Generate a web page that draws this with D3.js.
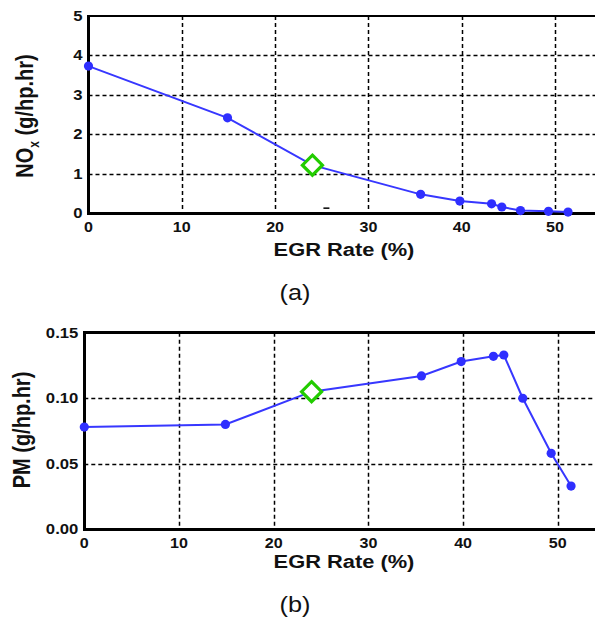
<!DOCTYPE html>
<html>
<head>
<meta charset="utf-8">
<script src="https://cdn.jsdelivr.net/npm/d3@7"></script>
<style>
  html, body { margin: 0; padding: 0; background: #fff; }
  svg { display: block; }
  text { font-family: "Liberation Sans", Arial, sans-serif; fill: #111; }
</style>
</head>
<body>
<svg id="chart" width="595" height="621"></svg>
<script>
// EGR sweep: rate (%) and brake-specific emissions
const egrRate = [0, 14.9, 24.0, 35.6, 39.8, 43.2, 44.3, 46.3, 49.3, 51.4];
const noxValues = [3.73, 2.42, 1.22, 0.48, 0.31, 0.24, 0.16, 0.07, 0.05, 0.03];
const pmValues = [0.078, 0.080, 0.105, 0.117, 0.128, 0.132, 0.133, 0.100, 0.058, 0.033];
// operating point shown with an open diamond
const selectedIndex = 2;

const xTicks = [0, 10, 20, 30, 40, 50];
const noxTicks = [0, 1, 2, 3, 4, 5];
const pmTicks = [0.00, 0.05, 0.10, 0.15];

const xTitle = "EGR Rate (%)";

const svg = d3.select("#chart");
const W = 595;
const STRETCH = 1.15;   // text is drawn slightly widened

function panel(cfg) {
  const g = svg.append("g");
  const x = d3.scaleLinear().domain([0, 60]).range([cfg.left, cfg.left + 60 * cfg.pxPerUnit]);
  const y = d3.scaleLinear().domain([cfg.yTicks[0], cfg.yTicks[cfg.yTicks.length - 1]])
    .range([cfg.bottom, cfg.top]);

  // dashed grid
  const grid = g.append("g").attr("stroke", "#000").attr("stroke-width", 1.5)
    .attr("stroke-dasharray", "4,3").attr("fill", "none");
  grid.selectAll("line.v").data(xTicks.slice(1)).join("line")
    .attr("x1", d => Math.round(x(d)) + 0.5).attr("x2", d => Math.round(x(d)) + 0.5)
    .attr("y1", cfg.top).attr("y2", cfg.bottom);
  grid.selectAll("line.h").data(cfg.yTicks.slice(1, -1)).join("line")
    .attr("x1", cfg.left).attr("x2", W)
    .attr("y1", d => Math.round(y(d)) + 0.5).attr("y2", d => Math.round(y(d)) + 0.5);

  // frame: left, top, bottom
  const frame = g.append("g").attr("stroke", "#000").attr("stroke-width", 2.6)
    .attr("shape-rendering", "crispEdges");
  frame.append("line").attr("x1", cfg.left).attr("x2", cfg.left).attr("y1", cfg.top - 1.3).attr("y2", cfg.bottom + 1.3);
  frame.append("line").attr("x1", cfg.left).attr("x2", W).attr("y1", cfg.top).attr("y2", cfg.top);
  frame.append("line").attr("x1", cfg.left).attr("x2", W).attr("y1", cfg.bottom).attr("y2", cfg.bottom);

  // tick labels
  g.selectAll("text.xt").data(xTicks).join("text")
    .attr("transform", d => `translate(${x(d)},${cfg.bottom + 19}) scale(${STRETCH},1)`)
    .attr("text-anchor", "middle").attr("font-size", 14).attr("font-weight", "bold")
    .text(d => d);
  g.selectAll("text.yt").data(cfg.yTicks).join("text")
    .attr("transform", d => `translate(${cfg.left - 6},${y(d) + 5}) scale(${STRETCH},1)`)
    .attr("text-anchor", "end").attr("font-size", 14.5).attr("font-weight", "bold")
    .text(d => cfg.fmt(d));

  // axis titles
  g.append("text")
    .attr("transform", `translate(344,${cfg.bottom + cfg.xTitleGap}) scale(${STRETCH},1)`)
    .attr("text-anchor", "middle").attr("font-size", 19).attr("font-weight", "bold")
    .text(xTitle);
  const yt = g.append("text")
    .attr("transform", `translate(${cfg.yTitleX},${cfg.yTitleY}) scale(${STRETCH},1) rotate(-90)`)
    .attr("text-anchor", "middle").attr("font-size", 20).attr("font-weight", "bold");
  cfg.yTitle(yt);

  // panel caption
  g.append("text")
    .attr("transform", `translate(295,${cfg.captionY}) scale(${STRETCH},1)`)
    .attr("text-anchor", "middle").attr("font-size", 22)
    .text(cfg.caption);

  // data line and markers
  const pts = egrRate.map((e, i) => ({ x: e, y: cfg.values[i], i }));
  const line = d3.line().x(d => x(d.x)).y(d => y(d.y));
  g.append("path").datum(pts).attr("d", line)
    .attr("fill", "none").attr("stroke", "#3737ff").attr("stroke-width", 2);
  g.selectAll("circle.pt").data(pts.filter(d => d.i !== selectedIndex)).join("circle")
    .attr("cx", d => x(d.x)).attr("cy", d => y(d.y)).attr("r", 4.6)
    .attr("fill", "#2f2fff");
  const sel = pts[selectedIndex];
  const s = 10;
  g.append("path")
    .attr("d", `M0,${-s}L${s},0L0,${s}L${-s},0Z`)
    .attr("transform", `translate(${x(sel.x)},${y(sel.y)})`)
    .attr("fill", "#fff").attr("stroke", "#22cc00").attr("stroke-width", 3.2);
  return { g, x, y };
}

const a = panel({
  left: 88.5, pxPerUnit: 9.33, top: 16, bottom: 213.3,
  yTicks: noxTicks, values: noxValues, fmt: d => d,
  xTitleGap: 43, yTitleX: 33, yTitleY: 116,
  captionY: 300, caption: "(a)",
  yTitle: t => {
    t.append("tspan").text("NO");
    t.append("tspan").attr("font-size", 12).attr("dy", 5).text("x");
    t.append("tspan").attr("dy", -5).text(" (g/hp.hr)");
  }
});
// small stray dash below the curve near 25 %
a.g.append("line")
  .attr("x1", a.x(25.5) - 3).attr("x2", a.x(25.5) + 3)
  .attr("y1", a.y(0.13)).attr("y2", a.y(0.13))
  .attr("stroke", "#111").attr("stroke-width", 1.6);

panel({
  left: 84.3, pxPerUnit: 9.47, top: 332.7, bottom: 529.3,
  yTicks: pmTicks, values: pmValues, fmt: d3.format(".2f"),
  xTitleGap: 39, yTitleX: 30, yTitleY: 430,
  captionY: 612, caption: "(b)",
  yTitle: t => t.text("PM (g/hp.hr)")
});
</script>
</body>
</html>
